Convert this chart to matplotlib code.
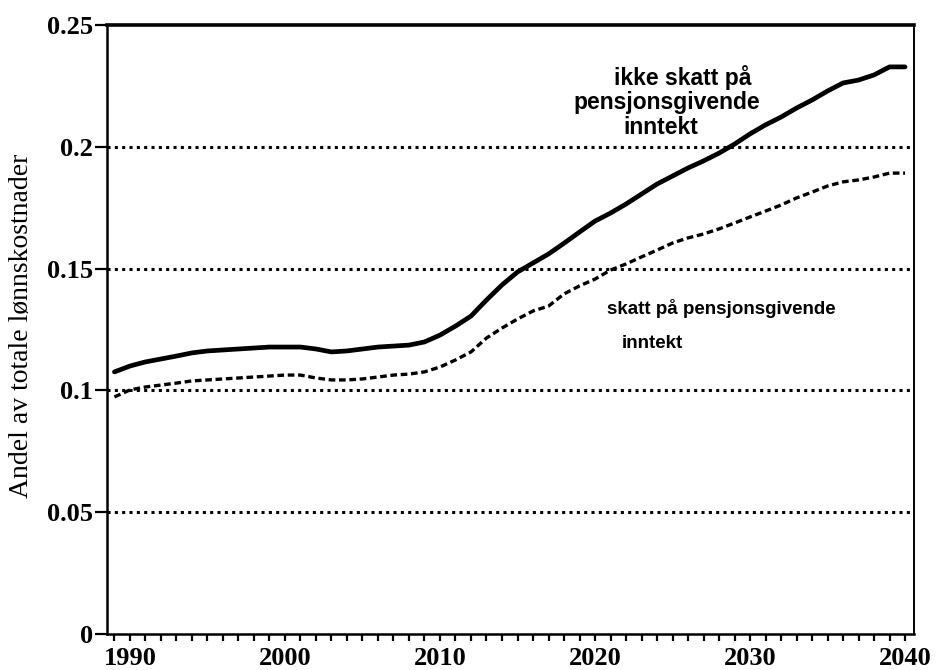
import numpy as np
import matplotlib.pyplot as plt

# data
years = list(range(1989, 2041))
ikke_skatt = [0.1076, 0.1100, 0.1117, 0.1129, 0.1141, 0.1154, 0.1162, 0.1166, 0.1170, 0.1174,
              0.1178, 0.1178, 0.1178, 0.1170, 0.1158, 0.1162, 0.1170, 0.1178, 0.1182, 0.1186,
              0.1199, 0.1227, 0.1264, 0.1305, 0.1371, 0.1433, 0.1486, 0.1523, 0.1560, 0.1604,
              0.1650, 0.1695, 0.1728, 0.1765, 0.1806, 0.1847, 0.1880, 0.1913, 0.1942, 0.1974,
              0.2011, 0.2053, 0.2090, 0.2122, 0.2159, 0.2192, 0.2229, 0.2262, 0.2274, 0.2295,
              0.2328, 0.2328]
skatt = [0.0973, 0.1002, 0.1014, 0.1022, 0.1030, 0.1039, 0.1043, 0.1047, 0.1051, 0.1055,
         0.1059, 0.1063, 0.1063, 0.1051, 0.1043, 0.1043, 0.1047, 0.1055, 0.1063, 0.1067,
         0.1076, 0.1096, 0.1125, 0.1158, 0.1215, 0.1256, 0.1293, 0.1326, 0.1346, 0.1396,
         0.1429, 0.1457, 0.1494, 0.1519, 0.1548, 0.1576, 0.1605, 0.1626, 0.1642, 0.1663,
         0.1687, 0.1712, 0.1736, 0.1761, 0.1790, 0.1814, 0.1839, 0.1856, 0.1864, 0.1876,
         0.1892, 0.1892]
yticks = [0, 0.05, 0.1, 0.15, 0.2, 0.25]
ytick_labels = ['0', '0.05', '0.1', '0.15', '0.2', '0.25']
xticks = [1990, 2000, 2010, 2020, 2030, 2040]

fig = plt.figure(figsize=(9.37, 6.70), dpi=100)
ax = fig.add_axes([0.1142, 0.0537, 0.8613, 0.909])

for g in yticks[1:-1]:
	ax.axhline(g, color='black', lw=2.2, linestyle=(0, (1, 1.4)), zorder=1)

ax.plot(years, ikke_skatt, color='black', lw=3.4, solid_capstyle='round', zorder=3)
ax.plot(years, skatt, color='black', lw=2.4, linestyle=(0, (2, 1.1)), zorder=3)

ax.set_xlim(1988.52, 2040.58)
ax.set_ylim(0, 0.25)

ax.set_yticks(yticks)
ax.set_yticklabels(ytick_labels, fontfamily='Liberation Serif', fontweight='bold', fontsize=19)
ax.set_xticks(xticks)
ax.set_xticklabels([str(x) for x in xticks], fontfamily='Liberation Serif', fontweight='bold', fontsize=19)
ax.set_xticks(range(1989, 2041), minor=True)
ax.tick_params(axis='y', direction='out', length=9, width=1.6, pad=1)
ax.tick_params(axis='x', which='both', direction='out', length=5, width=1.6, pad=4)

for s in ax.spines.values():
	s.set_linewidth(1.8)
ax.spines['top'].set_linewidth(2.6)
ax.spines['right'].set_linewidth(1.4)

fig.text(22/937, 1-326/670, 'Andel av totale lønnskostnader', rotation=90,
         fontfamily='Liberation Serif', fontsize=20, ha='center', va='center')

sans = dict(fontfamily='Liberation Sans', fontweight='bold', color='black', transform=fig.transFigure, va='center')
fig.text(683/937, 1-78/670, 'ikke skatt på', ha='center', fontsize=16.5, **sans)
fig.text(667/937, 1-103/670, 'pensjonsgivende', ha='center', fontsize=16.5, **sans)
fig.text(661/937, 1-128/670, 'inntekt', ha='center', fontsize=16.5, **sans)
fig.text(607/937, 1-308/670, 'skatt på pensjonsgivende', ha='left', fontsize=13.5, **sans)
fig.text(622/937, 1-343/670, 'inntekt', ha='left', fontsize=13.5, **sans)

fig.savefig('out.png', dpi=100)
